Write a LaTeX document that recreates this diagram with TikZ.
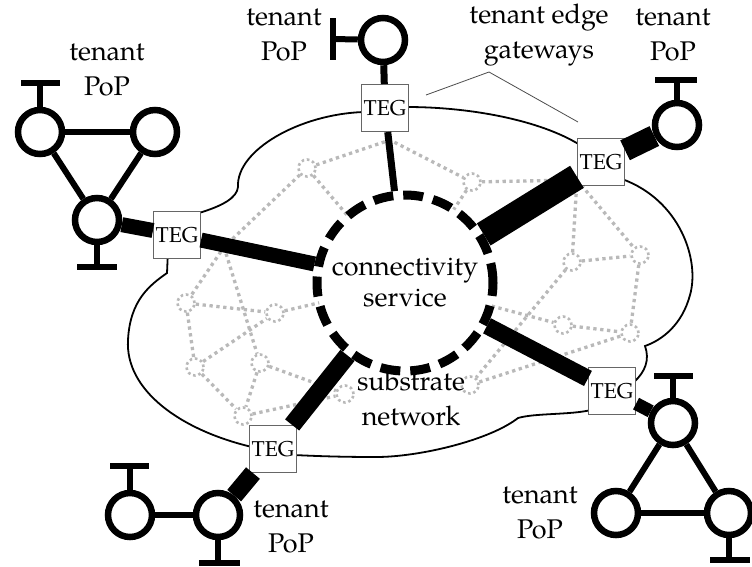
\documentclass[tikz,border=0pt]{standalone}
\usepackage{fontspec}
\setmainfont{texgyrepagella}[Extension=.otf,UprightFont=*-regular,BoldFont=*-bold,ItalicFont=*-italic,BoldItalicFont=*-bolditalic]
\tikzset{
  mesh/.style={draw=gray!55, line width=3.3pt, dash pattern=on 3.3pt off 3.6pt},
  meshnode/.style={circle, draw=gray!55, line width=2.6pt, dash pattern=on 2.6pt off 2.8pt, minimum size=17pt, inner sep=0pt},
  cloudline/.style={draw=black, line width=1.8pt},
  svcnode/.style={circle, draw=black, fill=white, line width=9pt, dash pattern=on 20pt off 10pt, minimum size=176pt, inner sep=0pt, align=center, font=\fontsize{27}{31}\selectfont},
  teg/.style={rectangle, draw=black!60, fill=white, line width=1.1pt, minimum size=47pt, inner sep=0pt, font=\fontsize{21.5}{22}\selectfont},
  router/.style={circle, draw=black, fill=white, line width=6.5pt, minimum size=44pt, inner sep=0pt},
  plink/.style={draw=black, line width=6pt},
  lbl/.style={align=center, font=\fontsize{27}{35}\selectfont, inner sep=0pt},
  ann/.style={draw=black!70, line width=0.8pt},
}
\begin{document}
\begin{tikzpicture}[x=1pt,y=-1pt]
\useasboundingbox (0,0) rectangle (752,566);

% substrate network mesh
\coordinate (svcc) at (405,283);
\coordinate (mJ) at (390,140);
\coordinate (mG) at (224,247);
\coordinate (mQ) at (577,180);
\node[meshnode] (mA) at (307,168) {};
\node[meshnode] (mI) at (472,182) {};
\node[meshnode] (mB) at (186,303) {};
\node[meshnode] (mC) at (275,313) {};
\node[meshnode] (mD) at (195,367) {};
\node[meshnode] (mE) at (260,363) {};
\node[meshnode] (mF) at (243,416) {};
\node[meshnode] (mH) at (345,394) {};
\node[meshnode] (mK) at (572,262) {};
\node[meshnode] (mL) at (640,255) {};
\node[meshnode] (mM) at (630,333) {};
\node[meshnode] (mN) at (563,325) {};
\node[meshnode] (mP) at (470,385) {};
\draw[mesh] (mA) -- (mJ) -- (mI);
\draw[mesh] (mA) -- (mG) -- (mB);
\draw[mesh] (mG) -- (mE);
\draw[mesh] (mA) -- (svcc);
\draw[mesh] (mB) -- (mC);
\draw[mesh] (mB) -- (mD);
\draw[mesh] (mD) -- (mC);
\draw[mesh] (mC) -- (svcc);
\draw[mesh] (mD) -- (mF);
\draw[mesh] (mE) -- (mF);
\draw[mesh] (mE) -- (mH);
\draw[mesh] (mF) -- (mH);
\draw[mesh] (mI) -- (mQ);
\draw[mesh] (mI) -- (svcc);
\draw[mesh] (mQ) -- (mK);
\draw[mesh] (mQ) -- (mL);
\draw[mesh] (mK) -- (mL);
\draw[mesh] (mL) -- (mM);
\draw[mesh] (mK) -- (mP);
\draw[mesh] (svcc) -- (mN);
\draw[mesh] (mN) -- (mM);
\draw[mesh] (mP) -- (mM);

% cloud outline of the substrate
\draw[cloudline] (199,213) .. controls (222,206) and (237,198) .. (238,187)
  .. controls (236,150) and (300,114) .. (364,112)
  -- (407,107)
  .. controls (470,107) and (540,120) .. (580,145)
  -- (622,179)
  .. controls (680,200) and (700,260) .. (690,295)
  .. controls (682,325) and (662,340) .. (645,346)
  .. controls (650,360) and (645,372) .. (634,382)
  -- (591,410)
  .. controls (570,415) and (535,413) .. (518,418)
  .. controls (490,440) and (420,457) .. (376,457)
  .. controls (340,457) and (315,456) .. (294,455)
  -- (252,447)
  .. controls (180,430) and (125,390) .. (128,340)
  .. controls (130,300) and (150,285) .. (167,273)
  -- (168,250) -- cycle;

\node[lbl] (sublbl) at (411,398) {substrate\\network};

% connectivity service
\node[svcnode] (svc) at (405,283) {connectivity\\service};

% tenant edge gateways
\node[teg] (tegT) at (385,108) {TEG};
\node[teg] (tegL) at (177,235) {TEG};
\node[teg] (tegR) at (601,162) {TEG};
\node[teg] (tegBR) at (612,391) {TEG};
\node[teg] (tegB) at (273,449) {TEG};

% tenant routers
\node[router] (rT) at (383,40) {};
\node[router] (rL1) at (40,132) {};
\node[router] (rL2) at (155,132) {};
\node[router] (rL3) at (97,220) {};
\node[router] (rR) at (677,125) {};
\node[router] (rB1) at (130,515) {};
\node[router] (rB2) at (218,515) {};
\node[router] (rS1) at (673,423) {};
\node[router] (rS2) at (616,513) {};
\node[router] (rS3) at (729,513) {};

% links through the service
\draw[draw=black, line width=7pt] (tegT) -- (svc);
\draw[draw=black, line width=15pt] (tegL) -- (svc);
\draw[draw=black, line width=26pt] (tegR) -- (svc);
\draw[draw=black, line width=17pt] (tegBR) -- (svc);
\draw[draw=black, line width=18pt] (tegB) -- (svc);

% access links
\draw[draw=black, line width=7pt] (tegT) -- (rT);
\draw[draw=black, line width=15pt] (tegL) -- (rL3);
\draw[draw=black, line width=22pt] (tegR) -- (rR);
\draw[draw=black, line width=13pt] (tegBR) -- (rS1);
\draw[draw=black, line width=18pt] (tegB) -- (rB2);

% links inside the tenant sites
\draw[plink] (rL1) -- (rL2);
\draw[plink] (rL1) -- (rL3);
\draw[plink] (rL2) -- (rL3);
\draw[plink] (rB1) -- (rB2);
\draw[plink] (rS1) -- (rS2);
\draw[plink] (rS1) -- (rS3);
\draw[plink] (rS2) -- (rS3);

% stub ends
\coordinate (sT) at (333,39);
\coordinate (sTa) at (333,18);
\coordinate (sTb) at (333,60);
\draw[plink] (rT) -- (sT);
\draw[plink] (sTa) -- (sTb);

\coordinate (sL1) at (40,83);
\coordinate (sL1a) at (21,83);
\coordinate (sL1b) at (60,83);
\draw[plink] (rL1) -- (sL1);
\draw[plink] (sL1a) -- (sL1b);

\coordinate (sL3) at (97,267);
\coordinate (sL3a) at (77,267);
\coordinate (sL3b) at (117,267);
\draw[plink] (rL3) -- (sL3);
\draw[plink] (sL3a) -- (sL3b);

\coordinate (sR) at (677,80);
\coordinate (sRa) at (655,80);
\coordinate (sRb) at (697,80);
\draw[plink] (rR) -- (sR);
\draw[plink] (sRa) -- (sRb);

\coordinate (sB1) at (130,466);
\coordinate (sB1a) at (110,466);
\coordinate (sB1b) at (149,466);
\draw[plink] (rB1) -- (sB1);
\draw[plink] (sB1a) -- (sB1b);

\coordinate (sB2) at (218,563);
\coordinate (sB2a) at (199,563);
\coordinate (sB2b) at (240,563);
\draw[plink] (rB2) -- (sB2);
\draw[plink] (sB2a) -- (sB2b);

\coordinate (sS1) at (673,376);
\coordinate (sS1a) at (654,376);
\coordinate (sS1b) at (693,376);
\draw[plink] (rS1) -- (sS1);
\draw[plink] (sS1a) -- (sS1b);

\coordinate (sS3) at (729,560);
\coordinate (sS3a) at (710,560);
\coordinate (sS3b) at (750,560);
\draw[plink] (rS3) -- (sS3);
\draw[plink] (sS3a) -- (sS3b);

% labels
\node[lbl] (lblL) at (107,70) {tenant\\PoP};
\node[lbl] (lblT) at (284,35) {tenant\\PoP};
\node[lbl] (lblG) at (539,35) {tenant edge\\gateways};
\node[lbl] (lblR) at (673,35) {tenant\\PoP};
\node[lbl] (lblB) at (291,527) {tenant\\PoP};
\node[lbl] (lblS) at (540,513) {tenant\\PoP};

% pointers from the gateway label
\coordinate (annO) at (489,72);
\coordinate (annL) at (426,95);
\coordinate (annR) at (578,122);
\draw[ann] (annO) -- (annL);
\draw[ann] (annO) -- (annR);
\end{tikzpicture}
\end{document}
